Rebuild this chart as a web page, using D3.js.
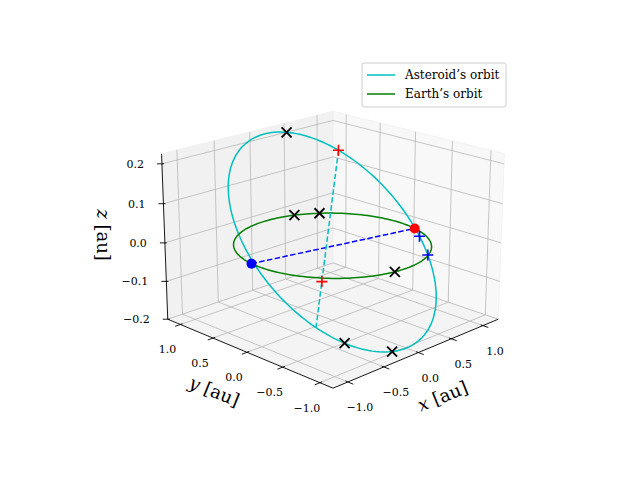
<!DOCTYPE html>
<html>
<head>
<meta charset="utf-8">
<script src="https://cdn.jsdelivr.net/npm/d3@7"></script>
<style>
  body { margin: 0; background: #fff; }
  text { font-family: "DejaVu Serif", "Liberation Serif", serif; }
</style>
</head>
<body>
<svg id="chart" width="640" height="480"></svg>
<script>
// axis limits
var xLim = [-1.2, 1.25];
var yLim = [-1.17, 1.2];
var zLim = [-0.2, 0.225];
var xyTicks = [-1.0, -0.5, 0.0, 0.5, 1.0];
var zTicks = [-0.2, -0.1, 0.0, 0.1, 0.2];

// Earth's orbit (circle, radius in au)
var earthRadius = 1.0;
// asteroid orbit: centre and two conjugate semi-axis vectors
var astCenter = [0.0, 0.0, 0.017];
var astAxisU = [0.985, -0.174, 0.0];
var astAxisV = [0.196, 1.117, 0.20];

// markers, as angles (deg) along the orbits
var earthDotAngles = [172, -15];
var earthDotColors = ["#0000ff", "#ff0000"];
var earthCrossAngles = [68, 52, -99];
var astCrossAngles = [78, -96, -123];
var astBlueAngles = [-9, -19];
var astChord = [47, -138];
var astRedFrac = [0.0, 0.76];

// view
var elev = 19 * Math.PI / 180, dist = 13, kScale = 119, cx = 333, cy = 238, halfZ = 0.735;
var ce = Math.cos(elev), se = Math.sin(elev);

var nx = d3.scaleLinear().domain(xLim).range([-1, 1]);
var ny = d3.scaleLinear().domain(yLim).range([-1, 1]);
var nz = d3.scaleLinear().domain(zLim).range([-halfZ, halfZ]);

function proj(p) {
    var X = nx(p[0]), Y = ny(p[1]), Z = nz(p[2]);
    var r = (X - Y) / Math.SQRT2, h = (X + Y) / Math.SQRT2;
    var up = Z * ce + h * se;
    var d = -h * ce + Z * se;
    var s = dist / (dist - d);
    return [cx + kScale * s * r, cy - kScale * s * up];
}

var svg = d3.select("#chart");
var line = d3.line();

function seg(a, b) { return line([proj(a), proj(b)]); }

// panes
var x0 = xLim[0], x1 = xLim[1], y0 = yLim[0], y1 = yLim[1], z0 = zLim[0], z1 = zLim[1];
var panes = [
    { pts: [[x0, y0, z0], [x1, y0, z0], [x1, y1, z0], [x0, y1, z0]], fill: "#f4f4f4" },
    { pts: [[x1, y0, z0], [x1, y1, z0], [x1, y1, z1], [x1, y0, z1]], fill: "#f8f8f8" },
    { pts: [[x0, y1, z0], [x1, y1, z0], [x1, y1, z1], [x0, y1, z1]], fill: "#f1f1f1" }
];
svg.selectAll(".pane").data(panes).enter().append("path")
    .attr("d", function(d) { return line(d.pts.map(proj)) + "Z"; })
    .attr("fill", function(d) { return d.fill; })
    .attr("stroke", "#f0f0f0").attr("stroke-width", 0.8);

// grid
var grid = [];
xyTicks.forEach(function(t) {
    grid.push([[t, y0, z0], [t, y1, z0]]);
    grid.push([[t, y1, z0], [t, y1, z1]]);
    grid.push([[x0, t, z0], [x1, t, z0]]);
    grid.push([[x1, t, z0], [x1, t, z1]]);
});
zTicks.forEach(function(t) {
    grid.push([[x0, y1, t], [x1, y1, t]]);
    grid.push([[x1, y0, t], [x1, y1, t]]);
});
svg.selectAll(".grid").data(grid).enter().append("path")
    .attr("d", function(d) { return seg(d[0], d[1]); })
    .attr("stroke", "#b8b8b8").attr("stroke-width", 0.8).attr("fill", "none");

// axis lines
var axes = [[[x0, y0, z0], [x1, y0, z0]], [[x0, y0, z0], [x0, y1, z0]], [[x0, y1, z0], [x0, y1, z1]]];
svg.selectAll(".axis").data(axes).enter().append("path")
    .attr("d", function(d) { return seg(d[0], d[1]); })
    .attr("stroke", "#000").attr("stroke-width", 0.9);

var tickG = svg.append("g").attr("stroke", "#000").attr("stroke-width", 0.9);
var labG = svg.append("g").attr("font-size", 11).attr("fill", "#000").attr("text-anchor", "middle");
function fmt(v) { return d3.format(".1f")(v).replace("-", "\u2212"); }

xyTicks.forEach(function(t) {
    // x ticks
    var a = proj([t, y0, z0]), b = proj([t, y0 - 0.07, z0]), c = proj([t, y0 + 0.03, z0]);
    tickG.append("line").attr("x1", c[0]).attr("y1", c[1]).attr("x2", b[0]).attr("y2", b[1]);
    labG.append("text").attr("x", a[0] + 12).attr("y", a[1] + 29).text(fmt(t));
    // y ticks
    a = proj([x0, t, z0]); b = proj([x0 - 0.07, t, z0]); c = proj([x0 + 0.03, t, z0]);
    tickG.append("line").attr("x1", c[0]).attr("y1", c[1]).attr("x2", b[0]).attr("y2", b[1]);
    labG.append("text").attr("x", a[0] - 13).attr("y", a[1] + 29).text(fmt(t));
});
zTicks.forEach(function(t) {
    var a = proj([x0, y1, t]);
    tickG.append("line").attr("x1", a[0] - 5).attr("y1", a[1]).attr("x2", a[0] + 2).attr("y2", a[1]);
    labG.append("text").attr("x", a[0] - 18).attr("y", a[1] + 4)
        .attr("text-anchor", "end").text(fmt(t));
});

// axis labels
function axisLabel(txt, x, y, rot) {
    var t = svg.append("text").attr("font-size", 18).attr("text-anchor", "middle")
        .attr("transform", "translate(" + x + "," + y + ") rotate(" + rot + ")");
    t.append("tspan").attr("font-style", "italic").text(txt);
    t.append("tspan").text(" [au]");
}
axisLabel("x", 445, 402, -22);
axisLabel("y", 212, 397, 22);
axisLabel("z", 97, 235, 90);

// orbits
var rad = Math.PI / 180;
function earthPt(deg) {
    return [earthRadius * Math.cos(deg * rad), earthRadius * Math.sin(deg * rad), 0];
}
function astPt(deg) {
    var c = Math.cos(deg * rad), s = Math.sin(deg * rad);
    return [0, 1, 2].map(function(i) { return astCenter[i] + c * astAxisU[i] + s * astAxisV[i]; });
}
var angles = d3.range(0, 361, 2);

svg.append("path").attr("d", line(angles.map(function(a) { return proj(astPt(a)); })))
    .attr("fill", "none").attr("stroke", "#00bfbf").attr("stroke-width", 1.5);
svg.append("path").attr("d", line(angles.map(function(a) { return proj(earthPt(a)); })))
    .attr("fill", "none").attr("stroke", "#008000").attr("stroke-width", 1.5);

// dashed lines
svg.append("path").attr("d", seg(earthPt(earthDotAngles[0]), earthPt(earthDotAngles[1])))
    .attr("stroke", "#0000ff").attr("stroke-width", 1.5).attr("stroke-dasharray", "5.5,2.4");
var chordA = astPt(astChord[0]), chordB = astPt(astChord[1]);
svg.append("path").attr("d", seg(chordA, chordB))
    .attr("stroke", "#00bfbf").attr("stroke-width", 1.5).attr("stroke-dasharray", "5.5,2.4");

// markers
function cross(p, color) {
    var q = proj(p), r = 5;
    svg.append("path").attr("d", "M" + (q[0] - r) + "," + (q[1] - r) + "L" + (q[0] + r) + "," + (q[1] + r) +
        "M" + (q[0] - r) + "," + (q[1] + r) + "L" + (q[0] + r) + "," + (q[1] - r))
        .attr("stroke", color).attr("stroke-width", 1.8);
}
function plus(p, color) {
    var q = proj(p), r = 5.5;
    svg.append("path").attr("d", "M" + (q[0] - r) + "," + q[1] + "L" + (q[0] + r) + "," + q[1] +
        "M" + q[0] + "," + (q[1] - r) + "L" + q[0] + "," + (q[1] + r))
        .attr("stroke", color).attr("stroke-width", 1.6);
}
earthCrossAngles.forEach(function(a) { cross(earthPt(a), "#000"); });
astCrossAngles.forEach(function(a) { cross(astPt(a), "#000"); });
astBlueAngles.forEach(function(a) { plus(astPt(a), "#0000ff"); });
astRedFrac.forEach(function(f) {
    plus(chordA.map(function(v, i) { return v + f * (chordB[i] - v); }), "#ff0000");
});
earthDotAngles.forEach(function(a, i) {
    var q = proj(earthPt(a));
    svg.append("circle").attr("cx", q[0]).attr("cy", q[1]).attr("r", 5).attr("fill", earthDotColors[i]);
});

// legend
var leg = svg.append("g").attr("transform", "translate(362,63)");
leg.append("rect").attr("width", 144).attr("height", 44).attr("rx", 2)
    .attr("fill", "#fff").attr("fill-opacity", 0.8).attr("stroke", "#cccccc");
var legItems = [["Asteroid\u2019s orbit", "#00bfbf"], ["Earth\u2019s orbit", "#008000"]];
legItems.forEach(function(d, i) {
    var y = 12 + i * 19;
    leg.append("line").attr("x1", 5).attr("x2", 33).attr("y1", y).attr("y2", y)
        .attr("stroke", d[1]).attr("stroke-width", 1.5);
    leg.append("text").attr("x", 43).attr("y", y + 4).attr("font-size", 12).text(d[0]);
});
</script>
</body>
</html>
